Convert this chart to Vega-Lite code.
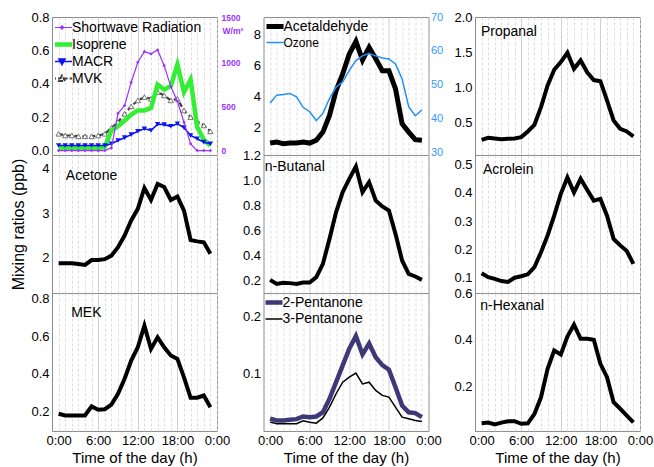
{
  "$schema": "https://vega.github.io/schema/vega-lite/v6.json",
  "padding": {"left": 10, "top": 10, "right": 3, "bottom": 2},
  "datasets": {
    "d": [
      {"h":0,"s":"Shortwave Radiation","v":0},{"h":1,"s":"Shortwave Radiation","v":0},{"h":2,"s":"Shortwave Radiation","v":0},{"h":3,"s":"Shortwave Radiation","v":0},{"h":4,"s":"Shortwave Radiation","v":0},{"h":5,"s":"Shortwave Radiation","v":0},{"h":6,"s":"Shortwave Radiation","v":0},{"h":7,"s":"Shortwave Radiation","v":0},{"h":8,"s":"Shortwave Radiation","v":30},{"h":9,"s":"Shortwave Radiation","v":421},{"h":10,"s":"Shortwave Radiation","v":509},{"h":11,"s":"Shortwave Radiation","v":772},{"h":12,"s":"Shortwave Radiation","v":998},{"h":13,"s":"Shortwave Radiation","v":1119},{"h":14,"s":"Shortwave Radiation","v":1093},{"h":15,"s":"Shortwave Radiation","v":1138},{"h":16,"s":"Shortwave Radiation","v":960},{"h":17,"s":"Shortwave Radiation","v":723},{"h":18,"s":"Shortwave Radiation","v":557},{"h":19,"s":"Shortwave Radiation","v":320},{"h":20,"s":"Shortwave Radiation","v":76},{"h":21,"s":"Shortwave Radiation","v":0},{"h":22,"s":"Shortwave Radiation","v":0},{"h":23,"s":"Shortwave Radiation","v":0},
      {"h":0,"s":"Isoprene","v":0.015},{"h":1,"s":"Isoprene","v":0.015},{"h":2,"s":"Isoprene","v":0.015},{"h":3,"s":"Isoprene","v":0.015},{"h":4,"s":"Isoprene","v":0.015},{"h":5,"s":"Isoprene","v":0.015},{"h":6,"s":"Isoprene","v":0.015},{"h":7,"s":"Isoprene","v":0.02},{"h":8,"s":"Isoprene","v":0.12},{"h":9,"s":"Isoprene","v":0.145},{"h":10,"s":"Isoprene","v":0.18},{"h":11,"s":"Isoprene","v":0.215},{"h":12,"s":"Isoprene","v":0.24},{"h":13,"s":"Isoprene","v":0.24},{"h":14,"s":"Isoprene","v":0.255},{"h":15,"s":"Isoprene","v":0.395},{"h":16,"s":"Isoprene","v":0.365},{"h":17,"s":"Isoprene","v":0.385},{"h":18,"s":"Isoprene","v":0.515},{"h":19,"s":"Isoprene","v":0.35},{"h":20,"s":"Isoprene","v":0.425},{"h":21,"s":"Isoprene","v":0.14},{"h":22,"s":"Isoprene","v":0.065},{"h":23,"s":"Isoprene","v":0.03},
      {"h":0,"s":"MACR","v":0.03},{"h":1,"s":"MACR","v":0.03},{"h":2,"s":"MACR","v":0.03},{"h":3,"s":"MACR","v":0.03},{"h":4,"s":"MACR","v":0.03},{"h":5,"s":"MACR","v":0.03},{"h":6,"s":"MACR","v":0.03},{"h":7,"s":"MACR","v":0.03},{"h":8,"s":"MACR","v":0.04},{"h":9,"s":"MACR","v":0.06},{"h":10,"s":"MACR","v":0.077},{"h":11,"s":"MACR","v":0.095},{"h":12,"s":"MACR","v":0.115},{"h":13,"s":"MACR","v":0.13},{"h":14,"s":"MACR","v":0.12},{"h":15,"s":"MACR","v":0.157},{"h":16,"s":"MACR","v":0.155},{"h":17,"s":"MACR","v":0.145},{"h":18,"s":"MACR","v":0.16},{"h":19,"s":"MACR","v":0.137},{"h":20,"s":"MACR","v":0.09},{"h":21,"s":"MACR","v":0.07},{"h":22,"s":"MACR","v":0.05},{"h":23,"s":"MACR","v":0.04},
      {"h":0,"s":"MVK","v":0.1},{"h":1,"s":"MVK","v":0.09},{"h":2,"s":"MVK","v":0.09},{"h":3,"s":"MVK","v":0.085},{"h":4,"s":"MVK","v":0.085},{"h":5,"s":"MVK","v":0.085},{"h":6,"s":"MVK","v":0.09},{"h":7,"s":"MVK","v":0.1},{"h":8,"s":"MVK","v":0.135},{"h":9,"s":"MVK","v":0.17},{"h":10,"s":"MVK","v":0.22},{"h":11,"s":"MVK","v":0.265},{"h":12,"s":"MVK","v":0.3},{"h":13,"s":"MVK","v":0.32},{"h":14,"s":"MVK","v":0.31},{"h":15,"s":"MVK","v":0.35},{"h":16,"s":"MVK","v":0.33},{"h":17,"s":"MVK","v":0.3},{"h":18,"s":"MVK","v":0.31},{"h":19,"s":"MVK","v":0.24},{"h":20,"s":"MVK","v":0.2},{"h":21,"s":"MVK","v":0.175},{"h":22,"s":"MVK","v":0.15},{"h":23,"s":"MVK","v":0.115},
      {"h":0,"s":"Acetaldehyde","v":0.97},{"h":1,"s":"Acetaldehyde","v":1.04},{"h":2,"s":"Acetaldehyde","v":0.93},{"h":3,"s":"Acetaldehyde","v":0.97},{"h":4,"s":"Acetaldehyde","v":0.97},{"h":5,"s":"Acetaldehyde","v":1.04},{"h":6,"s":"Acetaldehyde","v":0.97},{"h":7,"s":"Acetaldehyde","v":1.15},{"h":8,"s":"Acetaldehyde","v":1.68},{"h":9,"s":"Acetaldehyde","v":2.75},{"h":10,"s":"Acetaldehyde","v":4.36},{"h":11,"s":"Acetaldehyde","v":5.43},{"h":12,"s":"Acetaldehyde","v":6.72},{"h":13,"s":"Acetaldehyde","v":7.52},{"h":14,"s":"Acetaldehyde","v":6.33},{"h":15,"s":"Acetaldehyde","v":7.14},{"h":16,"s":"Acetaldehyde","v":6.4},{"h":17,"s":"Acetaldehyde","v":5.64},{"h":18,"s":"Acetaldehyde","v":5.64},{"h":19,"s":"Acetaldehyde","v":4.47},{"h":20,"s":"Acetaldehyde","v":2.22},{"h":21,"s":"Acetaldehyde","v":1.68},{"h":22,"s":"Acetaldehyde","v":1.19},{"h":23,"s":"Acetaldehyde","v":1.15},
      {"h":0,"s":"Ozone","v":44.6},{"h":1,"s":"Ozone","v":46.9},{"h":2,"s":"Ozone","v":47.1},{"h":3,"s":"Ozone","v":47.4},{"h":4,"s":"Ozone","v":46.4},{"h":5,"s":"Ozone","v":43.3},{"h":6,"s":"Ozone","v":42.0},{"h":7,"s":"Ozone","v":39.4},{"h":8,"s":"Ozone","v":41.5},{"h":9,"s":"Ozone","v":45.9},{"h":10,"s":"Ozone","v":49.3},{"h":11,"s":"Ozone","v":50.8},{"h":12,"s":"Ozone","v":54.2},{"h":13,"s":"Ozone","v":57.1},{"h":14,"s":"Ozone","v":58.5},{"h":15,"s":"Ozone","v":59.2},{"h":16,"s":"Ozone","v":58.5},{"h":17,"s":"Ozone","v":57.9},{"h":18,"s":"Ozone","v":57.6},{"h":19,"s":"Ozone","v":56.1},{"h":20,"s":"Ozone","v":51.7},{"h":21,"s":"Ozone","v":43.5},{"h":22,"s":"Ozone","v":40.8},{"h":23,"s":"Ozone","v":42.5},
      {"h":0,"s":"Propanal","v":0.257},{"h":1,"s":"Propanal","v":0.286},{"h":2,"s":"Propanal","v":0.276},{"h":3,"s":"Propanal","v":0.266},{"h":4,"s":"Propanal","v":0.271},{"h":5,"s":"Propanal","v":0.276},{"h":6,"s":"Propanal","v":0.295},{"h":7,"s":"Propanal","v":0.376},{"h":8,"s":"Propanal","v":0.471},{"h":9,"s":"Propanal","v":0.723},{"h":10,"s":"Propanal","v":1.033},{"h":11,"s":"Propanal","v":1.257},{"h":12,"s":"Propanal","v":1.366},{"h":13,"s":"Propanal","v":1.5},{"h":14,"s":"Propanal","v":1.27},{"h":15,"s":"Propanal","v":1.39},{"h":16,"s":"Propanal","v":1.22},{"h":17,"s":"Propanal","v":1.11},{"h":18,"s":"Propanal","v":1.094},{"h":19,"s":"Propanal","v":0.82},{"h":20,"s":"Propanal","v":0.533},{"h":21,"s":"Propanal","v":0.414},{"h":22,"s":"Propanal","v":0.376},{"h":23,"s":"Propanal","v":0.304},
      {"h":0,"s":"Acetone","v":1.88},{"h":1,"s":"Acetone","v":1.88},{"h":2,"s":"Acetone","v":1.88},{"h":3,"s":"Acetone","v":1.86},{"h":4,"s":"Acetone","v":1.84},{"h":5,"s":"Acetone","v":1.95},{"h":6,"s":"Acetone","v":1.95},{"h":7,"s":"Acetone","v":1.97},{"h":8,"s":"Acetone","v":2.05},{"h":9,"s":"Acetone","v":2.24},{"h":10,"s":"Acetone","v":2.5},{"h":11,"s":"Acetone","v":2.84},{"h":12,"s":"Acetone","v":3.1},{"h":13,"s":"Acetone","v":3.57},{"h":14,"s":"Acetone","v":3.3},{"h":15,"s":"Acetone","v":3.66},{"h":16,"s":"Acetone","v":3.59},{"h":17,"s":"Acetone","v":3.3},{"h":18,"s":"Acetone","v":3.38},{"h":19,"s":"Acetone","v":3.06},{"h":20,"s":"Acetone","v":2.4},{"h":21,"s":"Acetone","v":2.37},{"h":22,"s":"Acetone","v":2.35},{"h":23,"s":"Acetone","v":2.09},
      {"h":0,"s":"n-Butanal","v":0.205},{"h":1,"s":"n-Butanal","v":0.173},{"h":2,"s":"n-Butanal","v":0.181},{"h":3,"s":"n-Butanal","v":0.179},{"h":4,"s":"n-Butanal","v":0.173},{"h":5,"s":"n-Butanal","v":0.184},{"h":6,"s":"n-Butanal","v":0.184},{"h":7,"s":"n-Butanal","v":0.227},{"h":8,"s":"n-Butanal","v":0.333},{"h":9,"s":"n-Butanal","v":0.533},{"h":10,"s":"n-Butanal","v":0.747},{"h":11,"s":"n-Butanal","v":0.907},{"h":12,"s":"n-Butanal","v":1.013},{"h":13,"s":"n-Butanal","v":1.112},{"h":14,"s":"n-Butanal","v":0.907},{"h":15,"s":"n-Butanal","v":0.987},{"h":16,"s":"n-Butanal","v":0.84},{"h":17,"s":"n-Butanal","v":0.792},{"h":18,"s":"n-Butanal","v":0.76},{"h":19,"s":"n-Butanal","v":0.573},{"h":20,"s":"n-Butanal","v":0.36},{"h":21,"s":"n-Butanal","v":0.253},{"h":22,"s":"n-Butanal","v":0.232},{"h":23,"s":"n-Butanal","v":0.205},
      {"h":0,"s":"Acrolein","v":0.116},{"h":1,"s":"Acrolein","v":0.102},{"h":2,"s":"Acrolein","v":0.096},{"h":3,"s":"Acrolein","v":0.088},{"h":4,"s":"Acrolein","v":0.085},{"h":5,"s":"Acrolein","v":0.1},{"h":6,"s":"Acrolein","v":0.105},{"h":7,"s":"Acrolein","v":0.112},{"h":8,"s":"Acrolein","v":0.137},{"h":9,"s":"Acrolein","v":0.19},{"h":10,"s":"Acrolein","v":0.249},{"h":11,"s":"Acrolein","v":0.319},{"h":12,"s":"Acrolein","v":0.396},{"h":13,"s":"Acrolein","v":0.454},{"h":14,"s":"Acrolein","v":0.401},{"h":15,"s":"Acrolein","v":0.449},{"h":16,"s":"Acrolein","v":0.41},{"h":17,"s":"Acrolein","v":0.372},{"h":18,"s":"Acrolein","v":0.378},{"h":19,"s":"Acrolein","v":0.319},{"h":20,"s":"Acrolein","v":0.237},{"h":21,"s":"Acrolein","v":0.214},{"h":22,"s":"Acrolein","v":0.194},{"h":23,"s":"Acrolein","v":0.149},
      {"h":0,"s":"MEK","v":0.188},{"h":1,"s":"MEK","v":0.179},{"h":2,"s":"MEK","v":0.179},{"h":3,"s":"MEK","v":0.179},{"h":4,"s":"MEK","v":0.179},{"h":5,"s":"MEK","v":0.227},{"h":6,"s":"MEK","v":0.209},{"h":7,"s":"MEK","v":0.212},{"h":8,"s":"MEK","v":0.237},{"h":9,"s":"MEK","v":0.294},{"h":10,"s":"MEK","v":0.374},{"h":11,"s":"MEK","v":0.471},{"h":12,"s":"MEK","v":0.542},{"h":13,"s":"MEK","v":0.657},{"h":14,"s":"MEK","v":0.533},{"h":15,"s":"MEK","v":0.595},{"h":16,"s":"MEK","v":0.542},{"h":17,"s":"MEK","v":0.498},{"h":18,"s":"MEK","v":0.48},{"h":19,"s":"MEK","v":0.382},{"h":20,"s":"MEK","v":0.273},{"h":21,"s":"MEK","v":0.273},{"h":22,"s":"MEK","v":0.285},{"h":23,"s":"MEK","v":0.223},
      {"h":0,"s":"2-Pentanone","v":0.0196},{"h":1,"s":"2-Pentanone","v":0.0166},{"h":2,"s":"2-Pentanone","v":0.0166},{"h":3,"s":"2-Pentanone","v":0.0178},{"h":4,"s":"2-Pentanone","v":0.0189},{"h":5,"s":"2-Pentanone","v":0.0236},{"h":6,"s":"2-Pentanone","v":0.0224},{"h":7,"s":"2-Pentanone","v":0.0236},{"h":8,"s":"2-Pentanone","v":0.0312},{"h":9,"s":"2-Pentanone","v":0.0548},{"h":10,"s":"2-Pentanone","v":0.0841},{"h":11,"s":"2-Pentanone","v":0.1136},{"h":12,"s":"2-Pentanone","v":0.143},{"h":13,"s":"2-Pentanone","v":0.165},{"h":14,"s":"2-Pentanone","v":0.133},{"h":15,"s":"2-Pentanone","v":0.152},{"h":16,"s":"2-Pentanone","v":0.128},{"h":17,"s":"2-Pentanone","v":0.114},{"h":18,"s":"2-Pentanone","v":0.106},{"h":19,"s":"2-Pentanone","v":0.075},{"h":20,"s":"2-Pentanone","v":0.043},{"h":21,"s":"2-Pentanone","v":0.031},{"h":22,"s":"2-Pentanone","v":0.0295},{"h":23,"s":"2-Pentanone","v":0.0224},
      {"h":0,"s":"3-Pentanone","v":0.0136},{"h":1,"s":"3-Pentanone","v":0.0107},{"h":2,"s":"3-Pentanone","v":0.0107},{"h":3,"s":"3-Pentanone","v":0.0107},{"h":4,"s":"3-Pentanone","v":0.0107},{"h":5,"s":"3-Pentanone","v":0.016},{"h":6,"s":"3-Pentanone","v":0.0136},{"h":7,"s":"3-Pentanone","v":0.0118},{"h":8,"s":"3-Pentanone","v":0.021},{"h":9,"s":"3-Pentanone","v":0.04},{"h":10,"s":"3-Pentanone","v":0.0636},{"h":11,"s":"3-Pentanone","v":0.084},{"h":12,"s":"3-Pentanone","v":0.093},{"h":13,"s":"3-Pentanone","v":0.1},{"h":14,"s":"3-Pentanone","v":0.081},{"h":15,"s":"3-Pentanone","v":0.084},{"h":16,"s":"3-Pentanone","v":0.0695},{"h":17,"s":"3-Pentanone","v":0.0607},{"h":18,"s":"3-Pentanone","v":0.0577},{"h":19,"s":"3-Pentanone","v":0.04},{"h":20,"s":"3-Pentanone","v":0.0224},{"h":21,"s":"3-Pentanone","v":0.0196},{"h":22,"s":"3-Pentanone","v":0.0166},{"h":23,"s":"3-Pentanone","v":0.0148},
      {"h":0,"s":"n-Hexanal","v":0.043},{"h":1,"s":"n-Hexanal","v":0.046},{"h":2,"s":"n-Hexanal","v":0.038},{"h":3,"s":"n-Hexanal","v":0.046},{"h":4,"s":"n-Hexanal","v":0.052},{"h":5,"s":"n-Hexanal","v":0.052},{"h":6,"s":"n-Hexanal","v":0.041},{"h":7,"s":"n-Hexanal","v":0.043},{"h":8,"s":"n-Hexanal","v":0.083},{"h":9,"s":"n-Hexanal","v":0.154},{"h":10,"s":"n-Hexanal","v":0.276},{"h":11,"s":"n-Hexanal","v":0.354},{"h":12,"s":"n-Hexanal","v":0.337},{"h":13,"s":"n-Hexanal","v":0.414},{"h":14,"s":"n-Hexanal","v":0.465},{"h":15,"s":"n-Hexanal","v":0.404},{"h":16,"s":"n-Hexanal","v":0.404},{"h":17,"s":"n-Hexanal","v":0.4},{"h":18,"s":"n-Hexanal","v":0.297},{"h":19,"s":"n-Hexanal","v":0.24},{"h":20,"s":"n-Hexanal","v":0.133},{"h":21,"s":"n-Hexanal","v":0.105},{"h":22,"s":"n-Hexanal","v":0.076},{"h":23,"s":"n-Hexanal","v":0.047}
    ]
  },
  "data": {"name": "d"},
  "columns": 3,
  "spacing": {"row": 0, "column": 46.5},
  "bounds": "flush",
  "resolve": {"scale": {"color": "independent"}, "legend": {"color": "independent"}},
  "concat": [
    {
      "width": 165, "height": 138,
      "encoding": {"x": {"field":"h","type":"quantitative","scale":{"domain":[-1,24],"nice":false,"zero":false},"axis":{"values":[0,1,2,3,4,5,6,7,8,9,10,11,12,13,14,15,16,17,18,19,20,21,22,23,24],"labels":false,"title":null,"gridColor":{"condition":{"test":"datum.value % 6 === 0 && datum.value > 0 && datum.value < 24","value":"#c4c4c4"},"value":"#d4d4d4"},"gridDash":{"condition":{"test":"datum.value % 6 === 0 && datum.value > 0 && datum.value < 24","value":[]},"value":[3,2]}}}},
      "layer": [
        {
          "encoding": {"y": {"field":"v","type":"quantitative","scale":{"domain":[-0.027,0.8],"nice":false,"zero":false},"axis":{"orient":"left","title":null,"values":[0,0.2,0.4,0.6,0.8],"format":".1f"}}},
          "layer": [
            {"transform":[{"filter":"datum.s === 'MVK'"}],"mark":{"type":"line","strokeWidth":2.2,"strokeDash":[5,3]},
             "encoding":{"color":{"field":"s","type":"nominal","scale":{"domain":["Shortwave Radiation","Isoprene","MACR","MVK"],"range":["#9933ff","#33ee33","#0a14f0","#404040"]},
               "legend":{"title":null,"offset":3,"clipHeight":15,"rowPadding":2,
                 "symbolType":{"expr":"datum.value === 'Shortwave Radiation' ? 'M-1,0H1M-0.16,0L0,-0.16L0.16,0L0,0.16Z' : datum.value === 'MACR' ? 'M-1,0H1M-0.3,-0.25H0.3L0,0.3Z' : datum.value === 'MVK' ? 'M-1,0H-0.16M0.16,0H1M-0.3,0.25H0.3L0,-0.3Z' : 'M-1,0H1'"},
                 "symbolStrokeWidth":{"expr":"datum.value === 'Isoprene' ? 4.5 : datum.value === 'MVK' ? 2 : datum.value === 'MACR' ? 1.6 : 1.2"},
                 "symbolDash":{"expr":"datum.value === 'MVK' ? [4,2] : []"},
                 "symbolFillColor":{"expr":"datum.value === 'Shortwave Radiation' ? '#9933ff' : datum.value === 'MACR' ? '#0a14f0' : datum.value === 'MVK' ? '#ffffff' : 'transparent'"}}}}},
            {"transform":[{"filter":"datum.s === 'MVK'"}],"mark":{"type":"point","shape":"triangle-up","filled":true,"fill":"#ffffff","stroke":"#555555","strokeWidth":0.8,"size":28,"opacity":1}},
            {"transform":[{"filter":"datum.s === 'Isoprene'"}],"mark":{"type":"line","strokeWidth":4.5},
             "encoding":{"color":{"field":"s","type":"nominal","scale":{"domain":["Shortwave Radiation","Isoprene","MACR","MVK"],"range":["#9933ff","#33ee33","#0a14f0","#404040"]}}}},
            {"transform":[{"filter":"datum.s === 'MACR'"}],"mark":{"type":"line","strokeWidth":1.6},
             "encoding":{"color":{"field":"s","type":"nominal","scale":{"domain":["Shortwave Radiation","Isoprene","MACR","MVK"],"range":["#9933ff","#33ee33","#0a14f0","#404040"]}}}},
            {"transform":[{"filter":"datum.s === 'MACR'"}],"mark":{"type":"point","shape":"triangle-down","filled":true,"color":"#0a14f0","size":28,"opacity":1}}
          ]
        },
        {
          "encoding": {"y": {"field":"v","type":"quantitative","scale":{"domain":[-50,1510],"nice":false,"zero":false},"axis":{"orient":"right","values":[0,500,1000,1500],"format":"d","labelColor":"#9933ff","labelFontWeight":"bold","labelFontSize":8.5,"labelPadding":4,"title":"W/m²","titleColor":"#9933ff","titleFontSize":8.5,"titleFontWeight":"bold","titleAngle":0,"titleAlign":"left","titleBaseline":"middle","titleX":5,"titleY":13}}},
          "layer": [
            {"transform":[{"filter":"datum.s === 'Shortwave Radiation'"}],"mark":{"type":"line","strokeWidth":1.2},
             "encoding":{"color":{"field":"s","type":"nominal","scale":{"domain":["Shortwave Radiation","Isoprene","MACR","MVK"],"range":["#9933ff","#33ee33","#0a14f0","#404040"]}}}},
            {"transform":[{"filter":"datum.s === 'Shortwave Radiation'"}],"mark":{"type":"point","shape":"diamond","filled":true,"color":"#9933ff","size":12,"opacity":1}}
          ]
        }
      ],
      "resolve": {"scale": {"y": "independent"}}
    },
    {
      "width": 165, "height": 138,
      "encoding": {"x": {"field":"h","type":"quantitative","scale":{"domain":[-1,24],"nice":false,"zero":false},"axis":{"values":[0,1,2,3,4,5,6,7,8,9,10,11,12,13,14,15,16,17,18,19,20,21,22,23,24],"labels":false,"title":null,"gridColor":{"condition":{"test":"datum.value % 6 === 0 && datum.value > 0 && datum.value < 24","value":"#c4c4c4"},"value":"#d4d4d4"},"gridDash":{"condition":{"test":"datum.value % 6 === 0 && datum.value > 0 && datum.value < 24","value":[]},"value":[3,2]}}}},
      "layer": [
        {"transform":[{"filter":"datum.s === 'Acetaldehyde'"}],"mark":{"type":"line","strokeWidth":5},
         "encoding":{"y":{"field":"v","type":"quantitative","scale":{"domain":[0.2,9.1],"nice":false,"zero":false},"axis":{"orient":"left","title":null,"values":[2,4,6,8]}},
           "color":{"field":"s","type":"nominal","scale":{"domain":["Acetaldehyde","Ozone"],"range":["#000000","#1e8fff"]},
             "legend":{"title":null,"offset":3,"clipHeight":13,"rowPadding":2,
               "symbolStrokeWidth":{"expr":"datum.value === 'Ozone' ? 1.5 : 5"},
               "labelFontSize":{"expr":"datum.value === 'Ozone' ? 12 : 14"}}}}},
        {"transform":[{"filter":"datum.s === 'Ozone'"}],"mark":{"type":"line","strokeWidth":1.5},
         "encoding":{"y":{"field":"v","type":"quantitative","scale":{"domain":[29.2,70],"nice":false,"zero":false},"axis":{"orient":"right","title":null,"values":[30,40,50,60,70],"labelColor":"#3399ff","labelFontSize":11,"labelPadding":2}},
           "color":{"field":"s","type":"nominal","scale":{"domain":["Acetaldehyde","Ozone"],"range":["#000000","#1e8fff"]}}}}
      ],
      "resolve": {"scale": {"y": "independent"}}
    },
    {
      "width": 165, "height": 138,
      "encoding": {"x": {"field":"h","type":"quantitative","scale":{"domain":[-1,24],"nice":false,"zero":false},"axis":{"values":[0,1,2,3,4,5,6,7,8,9,10,11,12,13,14,15,16,17,18,19,20,21,22,23,24],"labels":false,"title":null,"gridColor":{"condition":{"test":"datum.value % 6 === 0 && datum.value > 0 && datum.value < 24","value":"#c4c4c4"},"value":"#d4d4d4"},"gridDash":{"condition":{"test":"datum.value % 6 === 0 && datum.value > 0 && datum.value < 24","value":[]},"value":[3,2]}}},
        "y":{"field":"v","type":"quantitative","scale":{"domain":[0.04,2.01],"nice":false,"zero":false},"axis":{"title":null,"values":[0.5,1,1.5,2],"format":".1f"}}},
      "transform":[{"filter":"datum.s === 'Propanal'"}],
      "layer": [
        {"mark":{"type":"line","strokeWidth":4,"color":"#000000"}},
        {"transform":[{"filter":"datum.h === 0"}],"mark":{"type":"text","align":"left","baseline":"middle","fontSize":14,"color":"#000000"},
         "encoding":{"x":{"datum":-0.1},"y":{"datum":1.8},"text":{"value":"Propanal"}}}
      ]
    },
    {
      "width": 165, "height": 138,
      "encoding": {"x": {"field":"h","type":"quantitative","scale":{"domain":[-1,24],"nice":false,"zero":false},"axis":{"values":[0,1,2,3,4,5,6,7,8,9,10,11,12,13,14,15,16,17,18,19,20,21,22,23,24],"labels":false,"title":null,"gridColor":{"condition":{"test":"datum.value % 6 === 0 && datum.value > 0 && datum.value < 24","value":"#c4c4c4"},"value":"#d4d4d4"},"gridDash":{"condition":{"test":"datum.value % 6 === 0 && datum.value > 0 && datum.value < 24","value":[]},"value":[3,2]}}},
        "y":{"field":"v","type":"quantitative","scale":{"domain":[1.21,4.31],"nice":false,"zero":false},"axis":{"title":"Mixing ratios (ppb)","titlePadding":15,"values":[2,3,4]}}},
      "transform":[{"filter":"datum.s === 'Acetone'"}],
      "layer": [
        {"mark":{"type":"line","strokeWidth":4,"color":"#000000"}},
        {"transform":[{"filter":"datum.h === 0"}],"mark":{"type":"text","align":"left","baseline":"middle","fontSize":14,"color":"#000000"},
         "encoding":{"x":{"datum":1.1},"y":{"datum":3.83},"text":{"value":"Acetone"}}}
      ]
    },
    {
      "width": 165, "height": 138,
      "encoding": {"x": {"field":"h","type":"quantitative","scale":{"domain":[-1,24],"nice":false,"zero":false},"axis":{"values":[0,1,2,3,4,5,6,7,8,9,10,11,12,13,14,15,16,17,18,19,20,21,22,23,24],"labels":false,"title":null,"gridColor":{"condition":{"test":"datum.value % 6 === 0 && datum.value > 0 && datum.value < 24","value":"#c4c4c4"},"value":"#d4d4d4"},"gridDash":{"condition":{"test":"datum.value % 6 === 0 && datum.value > 0 && datum.value < 24","value":[]},"value":[3,2]}}},
        "y":{"field":"v","type":"quantitative","scale":{"domain":[0.1,1.204],"nice":false,"zero":false},"axis":{"title":null,"values":[0.2,0.4,0.6,0.8,1,1.2],"format":".1f"}}},
      "transform":[{"filter":"datum.s === 'n-Butanal'"}],
      "layer": [
        {"mark":{"type":"line","strokeWidth":4,"color":"#000000"}},
        {"transform":[{"filter":"datum.h === 0"}],"mark":{"type":"text","align":"left","baseline":"middle","fontSize":14,"color":"#000000"},
         "encoding":{"x":{"datum":-0.8},"y":{"datum":1.112},"text":{"value":"n-Butanal"}}}
      ]
    },
    {
      "width": 165, "height": 138,
      "encoding": {"x": {"field":"h","type":"quantitative","scale":{"domain":[-1,24],"nice":false,"zero":false},"axis":{"values":[0,1,2,3,4,5,6,7,8,9,10,11,12,13,14,15,16,17,18,19,20,21,22,23,24],"labels":false,"title":null,"gridColor":{"condition":{"test":"datum.value % 6 === 0 && datum.value > 0 && datum.value < 24","value":"#c4c4c4"},"value":"#d4d4d4"},"gridDash":{"condition":{"test":"datum.value % 6 === 0 && datum.value > 0 && datum.value < 24","value":[]},"value":[3,2]}}},
        "y":{"field":"v","type":"quantitative","scale":{"domain":[0.046,0.533],"nice":false,"zero":false},"axis":{"title":null,"values":[0.1,0.2,0.3,0.4,0.5],"format":".1f"}}},
      "transform":[{"filter":"datum.s === 'Acrolein'"}],
      "layer": [
        {"mark":{"type":"line","strokeWidth":4,"color":"#000000"}},
        {"transform":[{"filter":"datum.h === 0"}],"mark":{"type":"text","align":"left","baseline":"middle","fontSize":14,"color":"#000000"},
         "encoding":{"x":{"datum":0.2},"y":{"datum":0.48},"text":{"value":"Acrolein"}}}
      ]
    },
    {
      "width": 165, "height": 138,
      "encoding": {"x": {"field":"h","type":"quantitative","scale":{"domain":[-1,24],"nice":false,"zero":false},"axis":{"values":[0,1,2,3,4,5,6,7,8,9,10,11,12,13,14,15,16,17,18,19,20,21,22,23,24],"labels":true,"labelExpr":"datum.value % 6 === 0 ? (datum.value % 24) + ':00' : ''","title":"Time of the day (h)","gridColor":{"condition":{"test":"datum.value % 6 === 0 && datum.value > 0 && datum.value < 24","value":"#c4c4c4"},"value":"#d4d4d4"},"gridDash":{"condition":{"test":"datum.value % 6 === 0 && datum.value > 0 && datum.value < 24","value":[]},"value":[3,2]}}},
        "y":{"field":"v","type":"quantitative","scale":{"domain":[0.096,0.831],"nice":false,"zero":false},"axis":{"title":null,"values":[0.2,0.4,0.6,0.8],"format":".1f"}}},
      "transform":[{"filter":"datum.s === 'MEK'"}],
      "layer": [
        {"mark":{"type":"line","strokeWidth":4,"color":"#000000"}},
        {"transform":[{"filter":"datum.h === 0"}],"mark":{"type":"text","align":"left","baseline":"middle","fontSize":14,"color":"#000000"},
         "encoding":{"x":{"datum":1.9},"y":{"datum":0.723},"text":{"value":"MEK"}}}
      ]
    },
    {
      "width": 165, "height": 138,
      "encoding": {"x": {"field":"h","type":"quantitative","scale":{"domain":[-1,24],"nice":false,"zero":false},"axis":{"values":[0,1,2,3,4,5,6,7,8,9,10,11,12,13,14,15,16,17,18,19,20,21,22,23,24],"labels":true,"labelExpr":"datum.value % 6 === 0 ? (datum.value % 24) + ':00' : ''","title":"Time of the day (h)","gridColor":{"condition":{"test":"datum.value % 6 === 0 && datum.value > 0 && datum.value < 24","value":"#c4c4c4"},"value":"#d4d4d4"},"gridDash":{"condition":{"test":"datum.value % 6 === 0 && datum.value > 0 && datum.value < 24","value":[]},"value":[3,2]}}},
        "y":{"field":"v","type":"quantitative","scale":{"domain":[-0.002,0.241],"nice":false,"zero":false},"axis":{"title":null,"values":[0.1,0.2],"format":".1f"}},
        "color":{"field":"s","type":"nominal","scale":{"domain":["2-Pentanone","3-Pentanone"],"range":["#3d3877","#000000"]},
          "legend":{"title":null,"offset":2,"clipHeight":15,"rowPadding":1.5,
            "symbolStrokeWidth":{"expr":"datum.value === '2-Pentanone' ? 4.5 : 1.5"}}}},
      "layer": [
        {"transform":[{"filter":"datum.s === '3-Pentanone'"}],"mark":{"type":"line","strokeWidth":1.5}},
        {"transform":[{"filter":"datum.s === '2-Pentanone'"}],"mark":{"type":"line","strokeWidth":4.5}}
      ]
    },
    {
      "width": 165, "height": 138,
      "encoding": {"x": {"field":"h","type":"quantitative","scale":{"domain":[-1,24],"nice":false,"zero":false},"axis":{"values":[0,1,2,3,4,5,6,7,8,9,10,11,12,13,14,15,16,17,18,19,20,21,22,23,24],"labels":true,"labelExpr":"datum.value % 6 === 0 ? (datum.value % 24) + ':00' : ''","title":"Time of the day (h)","gridColor":{"condition":{"test":"datum.value % 6 === 0 && datum.value > 0 && datum.value < 24","value":"#c4c4c4"},"value":"#d4d4d4"},"gridDash":{"condition":{"test":"datum.value % 6 === 0 && datum.value > 0 && datum.value < 24","value":[]},"value":[3,2]}}},
        "y":{"field":"v","type":"quantitative","scale":{"domain":[0.01,0.6],"nice":false,"zero":false},"axis":{"title":null,"values":[0.2,0.4,0.6],"format":".1f"}}},
      "transform":[{"filter":"datum.s === 'n-Hexanal'"}],
      "layer": [
        {"mark":{"type":"line","strokeWidth":4,"color":"#000000"}},
        {"transform":[{"filter":"datum.h === 0"}],"mark":{"type":"text","align":"left","baseline":"middle","fontSize":14,"color":"#000000"},
         "encoding":{"x":{"datum":-0.2},"y":{"datum":0.546},"text":{"value":"n-Hexanal"}}}
      ]
    }
  ],
  "config": {
    "font": "Liberation Sans",
    "view": {"stroke": "#8c8c8c", "strokeWidth": 1},
    "axis": {"labelFont": "Liberation Sans", "titleFont": "Liberation Sans", "labelColor": "#000000", "titleColor": "#000000", "titleFontWeight": "normal", "domain": false, "ticks": false, "labelFontSize": 13, "labelPadding": 3, "labelFlush": false, "labelOverlap": false, "labelBound": false},
    "axisX": {"grid": true, "gridWidth": 0.8, "titleFontSize": 15, "titlePadding": 3},
    "axisY": {"grid": false, "titleFontSize": 16},
    "legend": {"orient": "top-left", "padding": 0, "labelFont": "Liberation Sans", "labelFontSize": 14, "labelColor": "#000000", "symbolSize": 400, "symbolType": "stroke", "labelOffset": 3, "rowPadding": 2},
    "text": {"font": "Liberation Sans"}
  }
}
